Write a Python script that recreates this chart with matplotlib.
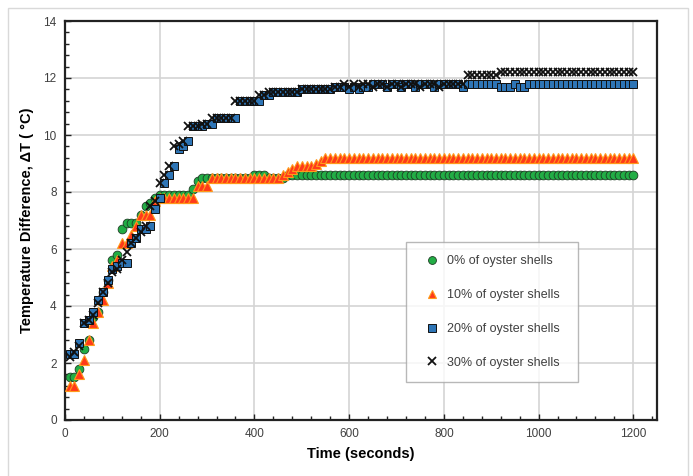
import numpy as np
import matplotlib
matplotlib.use("Agg")
import matplotlib.pyplot as plt
from matplotlib.ticker import MultipleLocator
from matplotlib.patches import Rectangle

plt.rcParams['font.family'] = ['Liberation Sans', 'DejaVu Sans']

time_s = np.arange(10, 1210, 10)

shell_0 = [1.5, 1.5, 1.8, 2.5, 2.8, 3.6, 3.8, 4.5, 4.9, 5.6,
           5.8, 6.7, 6.9, 6.9, 6.9, 7.2, 7.5, 7.6, 7.8, 7.9,
           7.9, 7.9, 7.9, 7.9, 7.9, 7.9, 8.1, 8.4,
           8.5, 8.5, 8.5, 8.5, 8.5, 8.5, 8.5, 8.5, 8.5, 8.5, 8.5,
           8.6, 8.6, 8.6,
           8.5, 8.5, 8.5, 8.5,
           8.6, 8.6, 8.6, 8.6, 8.6, 8.6, 8.6, 8.6, 8.6, 8.6,
           8.6, 8.6, 8.6, 8.6, 8.6, 8.6, 8.6, 8.6, 8.6, 8.6,
           8.6, 8.6, 8.6, 8.6, 8.6, 8.6, 8.6, 8.6, 8.6, 8.6,
           8.6, 8.6, 8.6, 8.6, 8.6, 8.6, 8.6, 8.6, 8.6, 8.6,
           8.6, 8.6, 8.6, 8.6, 8.6, 8.6, 8.6, 8.6, 8.6, 8.6,
           8.6, 8.6, 8.6, 8.6, 8.6, 8.6, 8.6, 8.6, 8.6, 8.6,
           8.6, 8.6, 8.6, 8.6, 8.6, 8.6, 8.6, 8.6, 8.6, 8.6,
           8.6, 8.6, 8.6, 8.6]

shell_10 = [1.2, 1.2, 1.6, 2.1, 2.8, 3.4, 3.8, 4.2, 4.8, 5.4,
            5.6, 6.2, 6.2, 6.5, 6.8, 7.2, 7.2, 7.2, 7.7,
            7.8, 7.8, 7.8, 7.8, 7.8, 7.8, 7.8, 7.8,
            8.2, 8.2, 8.2,
            8.5, 8.5, 8.5, 8.5, 8.5, 8.5, 8.5, 8.5, 8.5, 8.5,
            8.5, 8.5, 8.5, 8.5, 8.5,
            8.6, 8.7, 8.8,
            8.9, 8.9, 8.9, 8.9,
            9.0, 9.1,
            9.2, 9.2, 9.2, 9.2, 9.2, 9.2, 9.2, 9.2, 9.2, 9.2,
            9.2, 9.2, 9.2, 9.2, 9.2, 9.2, 9.2, 9.2, 9.2, 9.2,
            9.2, 9.2, 9.2, 9.2, 9.2, 9.2, 9.2, 9.2, 9.2, 9.2,
            9.2, 9.2, 9.2, 9.2, 9.2, 9.2, 9.2, 9.2, 9.2, 9.2,
            9.2, 9.2, 9.2, 9.2, 9.2, 9.2, 9.2, 9.2, 9.2, 9.2,
            9.2, 9.2, 9.2, 9.2, 9.2, 9.2, 9.2, 9.2, 9.2, 9.2,
            9.2, 9.2, 9.2, 9.2, 9.2, 9.2]

shell_20 = [2.3, 2.3, 2.7, 3.4, 3.5, 3.8, 4.2, 4.5, 4.9, 5.3,
            5.4, 5.5, 5.5, 6.2, 6.4, 6.7, 6.7, 6.8, 7.4, 7.8,
            8.3, 8.6, 8.9, 9.5, 9.6, 9.8, 10.3, 10.3, 10.3, 10.4,
            10.4,
            10.6, 10.6, 10.6, 10.6, 10.6,
            11.2, 11.2, 11.2, 11.2, 11.2,
            11.4, 11.4,
            11.5, 11.5, 11.5, 11.5, 11.5, 11.5,
            11.6, 11.6, 11.6, 11.6, 11.6, 11.6, 11.6,
            11.7, 11.7, 11.7,
            11.6, 11.7, 11.6, 11.7, 11.7, 11.8, 11.8, 11.8, 11.7, 11.8,
            11.8, 11.7, 11.8, 11.8, 11.7, 11.8, 11.8, 11.8, 11.7,
            11.8, 11.8, 11.8, 11.8, 11.8,
            11.7,
            11.8, 11.8, 11.8, 11.8, 11.8, 11.8, 11.8,
            11.7, 11.7, 11.7, 11.8, 11.7, 11.7,
            11.8, 11.8, 11.8, 11.8, 11.8, 11.8, 11.8, 11.8, 11.8, 11.8,
            11.8, 11.8, 11.8, 11.8, 11.8, 11.8, 11.8, 11.8, 11.8, 11.8,
            11.8, 11.8, 11.8]

shell_30 = [2.2, 2.4, 2.6, 3.4, 3.5, 3.7, 4.1, 4.5, 4.8, 5.2,
            5.3, 5.6, 5.9, 6.2, 6.4, 6.6, 6.8, 7.5, 7.7, 8.3,
            8.6, 8.9, 9.6, 9.7, 9.8, 10.3, 10.3, 10.3, 10.4, 10.4,
            10.6,
            10.6, 10.6, 10.6, 10.6,
            11.2, 11.2, 11.2, 11.2, 11.2,
            11.4, 11.4,
            11.5, 11.5, 11.5, 11.5, 11.5, 11.5, 11.5,
            11.6, 11.6, 11.6, 11.6, 11.6, 11.6, 11.6,
            11.7, 11.7, 11.8, 11.7, 11.8, 11.7, 11.8, 11.8, 11.7, 11.8,
            11.8, 11.7, 11.8, 11.8, 11.7, 11.8, 11.8, 11.8, 11.7, 11.8,
            11.8, 11.8, 11.7, 11.8, 11.8, 11.8, 11.8, 11.8,
            12.1, 12.1, 12.1, 12.1, 12.1, 12.1, 12.1,
            12.2, 12.2, 12.2, 12.2, 12.2, 12.2, 12.2, 12.2, 12.2, 12.2,
            12.2, 12.2, 12.2, 12.2, 12.2, 12.2, 12.2, 12.2, 12.2, 12.2,
            12.2, 12.2, 12.2, 12.2, 12.2, 12.2, 12.2, 12.2, 12.2]

labels = ["0% of oyster shells", "10% of oyster shells",
          "20% of oyster shells", "30% of oyster shells"]

fig = plt.figure(figsize=(6.93, 4.76), dpi=100)
fig.patches.append(Rectangle((8/693, -0.01), 680/693, 1 - 8/476 + 0.01,
                             transform=fig.transFigure, fill=False,
                             edgecolor='#d9d9d9', linewidth=1.0))
ax = fig.add_axes([65/693, 1 - 420/476, 592/693, 399/476])

ax.plot(time_s, shell_0, linestyle='none', marker='o', markersize=6.3,
        markerfacecolor='#22ad45', markeredgecolor='#1e3d24',
        markeredgewidth=0.6, label=labels[0], zorder=3)
ax.plot(time_s, shell_10, linestyle='none', marker='^', markersize=6.6,
        markerfacecolor='#ff3a1a', markeredgecolor='#ff9a1a',
        markeredgewidth=0.8, label=labels[1], zorder=4)
ax.plot(time_s, shell_20, linestyle='none', marker='s', markersize=6.3,
        markerfacecolor='#2e75b6', markeredgecolor='#111111',
        markeredgewidth=0.7, label=labels[2], zorder=5)
ax.plot(time_s, shell_30, linestyle='none', marker='x', markersize=6.0,
        color='#111111', markeredgewidth=1.3, label=labels[3], zorder=6)

ax.set_xlim(0, 1250)
ax.set_ylim(0, 14)
ax.xaxis.set_major_locator(MultipleLocator(200))
ax.xaxis.set_minor_locator(MultipleLocator(40))
ax.yaxis.set_major_locator(MultipleLocator(2))
ax.yaxis.set_minor_locator(MultipleLocator(0.4))
ax.grid(True, which='major', color='#d4d4d4', linewidth=1.2, zorder=0)
ax.set_axisbelow(True)
ax.tick_params(which='both', direction='in', colors='#222222',
               labelcolor='#404040', labelsize=8.5, width=1.0)
ax.tick_params(which='major', length=4, pad=6)
ax.tick_params(which='minor', length=3)
for s in ax.spines.values():
    s.set_linewidth(1.6)
    s.set_color('#222222')

ax.set_xlabel("Time (seconds)", fontsize=10.5, fontweight='bold', labelpad=5)
ax.set_ylabel("Temperature Difference, ΔT ( °C)", fontsize=10.5,
              fontweight='bold', labelpad=7)

leg = ax.legend(loc='upper left', bbox_to_anchor=(0.576, 0.118, 0.291, 0.328),
                mode='expand',
                frameon=True, fancybox=False, edgecolor='#a6a6a6',
                fontsize=9, labelspacing=1.75, handlelength=2.0,
                handletextpad=0.25, borderpad=1.05, borderaxespad=0,
                markerscale=0.9)
leg.get_frame().set_linewidth(1.0)
for t in leg.get_texts():
    t.set_color('#404040')

fig.savefig("out.png", dpi=100)
